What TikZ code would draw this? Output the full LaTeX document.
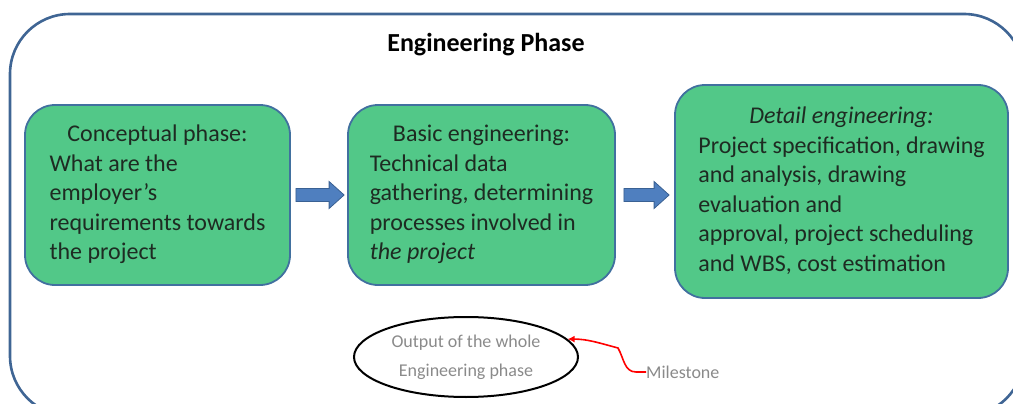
\documentclass[tikz,border=0pt]{standalone}
\usepackage{fontspec}
\setmainfont{Carlito}
\usetikzlibrary{shapes.geometric,arrows.meta,calc}
\definecolor{framecol}{HTML}{3F6594}
\definecolor{boxfill}{HTML}{52C888}
\definecolor{boxdraw}{HTML}{41709F}
\definecolor{arrfill}{HTML}{4F7FBF}
\definecolor{arrdraw}{HTML}{3A6193}
\definecolor{txt}{HTML}{1E2B22}
\definecolor{faint}{HTML}{8A8A8A}
\tikzset{
  phasebox/.style={draw=boxdraw, line width=1.8pt, fill=boxfill, rounded corners=30pt,
    inner sep=0pt, text=txt, font=\fontsize{24}{29.5}\selectfont},
  fatarrow/.style={draw=arrdraw, fill=arrfill, line width=0.8pt, line join=miter},
  faintnote/.style={text=faint, font=\fontsize{18}{29}\selectfont, align=center}
}
% fat block arrow between two points: #1 start, #2 end (horizontal)
\newcommand{\blockarrow}[2]{%
  \path[fatarrow] let \p1=(#1), \p2=(#2) in
    (\x1,\y1+6.5pt) -- (\x2-15pt,\y1+6.5pt) -- (\x2-15pt,\y1+13.5pt) -- (\x2,\y1)
    -- (\x2-15pt,\y1-13.5pt) -- (\x2-15pt,\y1-6.5pt) -- (\x1,\y1-6.5pt) -- cycle;}
\begin{document}
\begin{tikzpicture}[x=1pt,y=-1pt]
\useasboundingbox (0,0) rectangle (1013,404);
\clip (0,0) rectangle (1013,404);
% outer frame
\draw[framecol, line width=2.6pt, rounded corners=60pt] (10,14) rectangle (1024,416);
\node[font=\fontsize{26}{30}\selectfont\bfseries, text=black] (title) at (486,45) {Engineering Phase};
% boxes
\node[phasebox, minimum width=265pt, minimum height=180pt] (b1) at (157.5,195)
 {\begin{tabular}{@{}l@{}}\multicolumn{1}{@{}c@{}}{Conceptual phase:}\\
  What are the\\ employer's\\ requirements towards\\ the project\end{tabular}};
\node[phasebox, minimum width=267pt, minimum height=180pt] (b2) at (481.5,195)
 {\begin{tabular}{@{}l@{}}\multicolumn{1}{@{}c@{}}{Basic engineering:}\\
  Technical data\\ gathering, determining\\ processes involved in\\ \textit{the project}\end{tabular}};
\node[phasebox, minimum width=333pt, minimum height=213pt] (b3) at (841.5,191.5)
 {\begin{tabular}{@{}l@{}}\multicolumn{1}{@{}c@{}}{\textit{Detail engineering:}}\\
  Project specification, drawing\\ and analysis, drawing\\ evaluation and\\
  approval, project scheduling\\ and WBS, cost estimation\end{tabular}};
% arrows
\coordinate (a1s) at ($(b1.east)+(5,0)$);
\coordinate (a1e) at ($(b2.west)+(-3,0)$);
\coordinate (a2s) at ($(b2.east)+(8,0)$);
\coordinate (a2e) at ($(b3.west)+(-5,0)$);
\blockarrow{a1s}{a1e}
\blockarrow{a2s}{a2e}
% ellipse note
\node[ellipse, draw=black, line width=2pt, minimum width=224pt, minimum height=80pt,
  faintnote, inner sep=0pt] (ell) at (466,357) {Output of the whole\\ Engineering phase};
\node[faintnote, anchor=west, inner sep=0pt] (lbl) at (646,372) {Milestone};
\draw[red, line width=1.6pt, -{Latex[length=7pt,width=7pt]}]
  (lbl.west) -- ++(-10,0) to[out=180,in=-60] (618,348) to[out=165,in=0] (ell.10);
\end{tikzpicture}
\end{document}
